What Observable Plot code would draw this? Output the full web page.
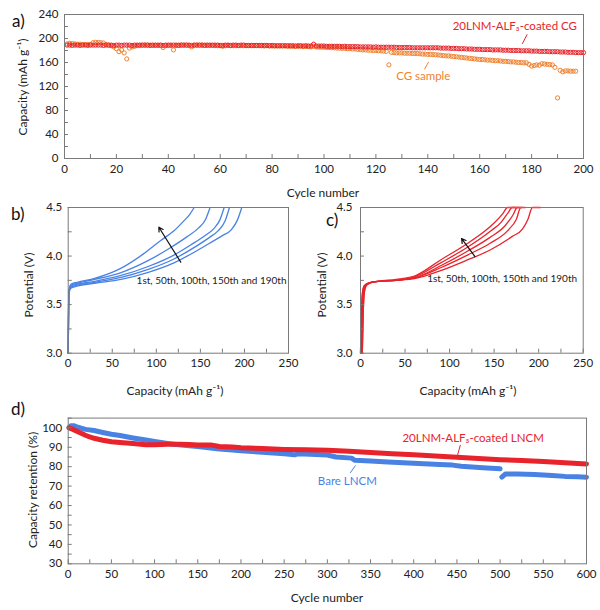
<!DOCTYPE html>
<html><head><meta charset="utf-8">
<script src="https://cdn.jsdelivr.net/npm/d3@7"></script>
<script src="https://cdn.jsdelivr.net/npm/@observablehq/plot@0.6"></script>
<style>
body{margin:0;background:#fff;font-family:Lato,"Open Sans",sans-serif;}
#fig{position:relative;width:600px;height:610px;overflow:hidden;background:#fff;}
.p{position:absolute;}
.t{position:absolute;font-size:12px;color:#222;white-space:nowrap;transform:translate(-50%,-50%);}
.r{transform:translate(-50%,-50%) rotate(-90deg);}
.lab{position:absolute;font-size:17px;color:#111;line-height:1;}
</style></head><body><div id="fig"></div><script>
// ---------- colours ----------
const RED = "#e8232b", ORANGE = "#f0822f", BLUE = "#4a82e4", FRAME = "#7a7a7a";

// ---------- panel a: capacity vs cycle (cycles 1..n) ----------
const coatedCG = [
 189,189,188.5,189,189,188.5,189,189,188.5,189,
 189,189,189,189,188.5,189,189,189,188.5,189,
 189,188.5,189,189,189,188.5,189,189,189,189,
 189,189,188.5,189,189,189,189,188.5,189,189,
 189,189,189,188.5,189,189,189,189,188.5,189,
 189,189,189,188.5,189,189,189,189,189,188.5,
 188.5,189,189,188.5,189,189,188.5,189,189,188.5,
 188.5,188.5,188.5,188.5,188.5,188.5,188.5,188.5,188,188.5,
 188,188,188,188,188,188,188,188,187.5,188,
 188,187.5,188,187.5,187.5,190.5,187.5,187.5,187.5,187.5,
 187,187,187,187,187,187,186.5,187,186.5,186.5,
 186.5,186.5,186.5,186,186,186,186,186,185.5,186,
 185.5,185.5,185.5,185.5,185.5,185.5,185.5,185,185,185,
 185,185,185,184.5,184.5,184.5,184.5,184.5,184.5,184.5,
 184.5,184.5,184.5,184.5,184,184,184,184,183.5,183.5,
 183.5,183,183,183,182.5,182.5,182.5,182,182,182,
 181.5,181.5,181.5,181.5,181,181,181,181,180.5,180.5,
 180.5,180,180,180,180,179.5,179.5,179.5,179.5,179,
 179,179,178.5,178.5,178.5,178.5,178,178,178,178,
 177.5,177.5,177.5,177,177,177,176.5,176.5,176.5,176.5
];
const cgSample = [
 191,192,191.5,191,190.5,190.5,190,190,190,190,
 193,193.5,193.5,193,192.5,190,189,188,186,183,
 178,181,176,166,184,186,187,188,188.5,189,
 189,189,189,188.5,188.5,188.5,188.5,185,188,188.5,
 188.5,181,188.5,189,189,189,189,188.5,186,189,
 189,189,189,189,188.5,188.5,188.5,188,188,188,
 187,188,188.5,188,188,188,188,188,188,188,
 188,188,188,188,188,188,187.5,188,187.5,187.5,
 187.5,187.5,187.5,187.5,187.5,187,187,187,187,187,
 187,186.5,186.5,186.5,186,187,186,185.5,185.5,185.5,
 185,185,184.5,184.5,184,184,183.5,183.5,183,183,
 182.5,182.5,182,181.5,181,181,180.5,180.5,180,180,
 179.5,179.5,179,178.5,156,177,176.5,176,176,176,
 175.5,175.5,175.5,175,175,175,174.5,174,174,173.5,
 173.5,173,173,172.5,172,171.5,171,171,170.5,170,
 169.5,169,168.5,168,167.5,167,166.5,166,165.5,165,
 165,164.5,164,164,163.5,163,163,162.5,162,162,
 161.5,161,161,160.5,160,160,159.5,159.5,157,154,
 155,156,155.5,158,157.5,157,156.5,156,152,101,
 147,144.5,146,146,145.5,145.5,145.5
];
const aXMajor = [0,20,40,60,80,100,120,140,160,180,200];
const aXMinor = [0,10,20,30,40,50,60,70,80,90,100,110,120,130,140,150,160,170,180,190,200];
const aYMajor = [0,40,80,120,160,200,240];
const aYMinor = [0,20,40,60,80,100,120,140,160,180,200,220,240];
const aCoatedNote = {x:197.5, y:220, text:"20LNM-ALF₃-coated CG"};
const aCgNote = {x:127.8, y:136.5, text:"CG sample"};
const aLinks = [
  {x1:178.3, y1:207, x2:176.4, y2:191, color:RED},
  {x1:140.3, y1:161, x2:138.7, y2:148.5, color:ORANGE}
];

// ---------- panel b: bare LNCM charge curves [capacity, V] (1st ... 190th) ----------
const b1st   = [[0,3.0],[0.5,3.5],[1,3.62],[3,3.67],[10,3.69],[30,3.72],[60,3.76],[90,3.83],[120,3.93],[145,4.05],[160,4.13],[175,4.21],[185,4.27],[192,4.37],[197,4.5]];
const b50th  = [[0,3.0],[0.5,3.5],[1,3.63],[3,3.68],[10,3.7],[30,3.73],[60,3.78],[90,3.86],[120,3.97],[145,4.1],[160,4.19],[170,4.26],[178,4.36],[183,4.5]];
const b100th = [[0,3.0],[0.5,3.5],[1,3.63],[3,3.69],[10,3.71],[30,3.74],[60,3.8],[90,3.89],[120,4.01],[140,4.12],[155,4.21],[165,4.28],[172,4.37],[177,4.5]];
const b150th = [[0,3.0],[0.5,3.5],[1,3.64],[3,3.7],[10,3.72],[30,3.76],[60,3.83],[90,3.95],[115,4.08],[135,4.2],[148,4.29],[156,4.38],[161,4.5]];
const b190th = [[0,3.0],[0.5,3.5],[1,3.65],[3,3.71],[10,3.73],[30,3.77],[59,3.87],[85,4.02],[105,4.16],[120,4.26],[131,4.36],[138,4.43],[143,4.5]];

// ---------- panel c: coated LNCM charge curves ----------
const c1st   = [[0,3.0],[1,3.4],[2,3.6],[4,3.69],[8,3.72],[20,3.74],[40,3.75],[62,3.77],[90,3.85],[120,3.96],[145,4.06],[170,4.2],[182,4.28],[188,4.38],[193,4.5],[202,4.5]];
const c50th  = [[0,3.0],[1,3.4],[2,3.6],[4,3.69],[8,3.72],[20,3.74],[40,3.75],[62,3.78],[90,3.88],[120,4.01],[145,4.13],[165,4.26],[175,4.38],[180,4.5],[185,4.5]];
const c100th = [[1,3.0],[2,3.4],[3,3.6],[5,3.69],[9,3.72],[20,3.74],[40,3.75],[62,3.78],[90,3.9],[120,4.05],[145,4.19],[162,4.31],[171,4.42],[176,4.5],[181,4.5]];
const c150th = [[2,3.0],[3,3.4],[4,3.6],[6,3.69],[10,3.72],[20,3.74],[40,3.75],[62,3.79],[90,3.93],[120,4.09],[145,4.25],[158,4.35],[166,4.45],[170,4.5],[178,4.5]];
const c190th = [[2,3.0],[3,3.4],[4,3.6],[6,3.69],[10,3.72],[20,3.74],[40,3.76],[62,3.8],[90,3.96],[120,4.13],[140,4.26],[150,4.34],[160,4.44],[165,4.5],[175,4.5]];

const bcXMajor = [0,50,100,150,200,250];
const bcXMinor = [0,25,50,75,100,125,150,175,200,225,250];
const bcYMajor = [3.0,3.5,4.0,4.5];
const bcYMinor = [3.0,3.25,3.5,3.75,4.0,4.25,4.5];
const cycleNote = "1st, 50th, 100th, 150th and 190th";
const bArrow = {x1:127.7, y1:3.937, x2:102.9, y2:4.297};
const cArrow = {x1:128.5, y1:3.995, x2:113.5, y2:4.18};
const bNotePos = {x:77.6, y:3.748};
const cNotePos = {x:74.8, y:3.77};

// ---------- panel d: capacity retention [cycle, %] ----------
const coatedLNCM = [[1,100],[5,99.3],[10,98.2],[15,97.2],[20,96.2],[25,95.3],[30,94.6],[40,93.6],[50,92.8],[60,92.4],[75,91.9],[90,91.3],[100,91.3],[115,91.5],[130,91.6],[140,91.4],[150,91.2],[165,91.2],[175,90.4],[190,90.1],[200,89.7],[225,89.3],[250,88.9],[275,88.7],[300,88.5],[325,87.9],[350,87.3],[375,86.7],[400,86.1],[425,85.5],[450,84.8],[475,84.2],[500,83.6],[525,83.2],[550,82.6],[575,82],[600,81.4]];
const bareLNCM = [[1,100.2],[3,101],[7,101],[10,100.5],[15,99.8],[20,99.2],[30,98.6],[40,97.6],[50,96.7],[60,96],[75,94.8],[90,93.7],[100,93],[115,92],[125,91.4],[140,90.8],[150,90.4],[160,89.9],[175,89.1],[190,88.6],[200,88.2],[225,87.4],[250,86.6],[262,86.1],[266,86.6],[280,86.4],[300,86],[310,85],[328,84.4],[332,83.3],[350,82.9],[370,82.4],[400,81.7],[430,81.1],[445,80.8],[455,80.2],[480,79.5],[500,78.9],[501,NaN],[502,74.6],[506,76.2],[520,76.2],[540,76],[560,75.5],[575,75],[590,74.8],[600,74.6]];
const dXMajor = [0,50,100,150,200,250,300,350,400,450,500,550,600];
const dXMinor = [0,25,50,75,100,125,150,175,200,225,250,275,300,325,350,375,400,425,450,475,500,525,550,575,600];
const dYMajor = [30,40,50,60,70,80,90,100];
const dYMinor = [30,35,40,45,50,55,60,65,70,75,80,85,90,95,100,105];
const dCoatedNote = {x:550.6, y:94.85, text:"20LNM-ALF₃-coated LNCM"};
const dBareNote = {x:289, y:72.5, text:"Bare LNCM"};
const dLinks = [
  {x1:454, y1:91.2, x2:450.5, y2:85.6, color:RED},
  {x1:332.6, y1:80.6, x2:326.5, y2:76.8, color:BLUE}
];

// ---------- helpers ----------
const fig = document.getElementById("fig");
function panel(o) {
  const svg = Plot.plot({
    width: o.width, height: o.height,
    marginLeft: o.m[3], marginRight: o.m[1], marginTop: o.m[0], marginBottom: o.m[2],
    x: {domain: o.xDomain}, y: {domain: o.yDomain},
    style: {fontFamily: "Lato, 'Open Sans', sans-serif", fontSize: "11.5px", color: "#222", background: "transparent", overflow: "visible"},
    marks: [
      ...o.marks,
      Plot.frame({stroke: FRAME}),
      Plot.axisX({ticks: o.xMinor, tickSize: -4, tickFormat: () => "", stroke: FRAME, label: null}),
      Plot.axisY({ticks: o.yMinor, tickSize: -4, tickFormat: () => "", stroke: FRAME, label: null}),
      Plot.axisX({ticks: o.xMajor, tickSize: 0, tickPadding: o.xPad ?? 6, tickFormat: o.xFmt, label: null}),
      Plot.axisY({ticks: o.yMajor, tickSize: 0, tickPadding: o.yPad ?? 6, tickFormat: o.yFmt, label: null})
    ]
  });
  svg.classList.add("p");
  svg.style.left = o.left + "px";
  svg.style.top = o.top + "px";
  fig.appendChild(svg);
}
function html(cls, text, x, y, size) {
  const d = document.createElement("div");
  d.className = cls;
  d.textContent = text;
  d.style.left = x + "px"; d.style.top = y + "px";
  if (size) d.style.fontSize = size + "px";
  fig.appendChild(d);
}
const rowsXY = (vals) => vals.map((v, i) => ({x: i + 1, y: v}));
const curveRows = (curves) => curves.flatMap((c, k) => c.map(([x, y]) => ({x, y, k})));
const note = (d, color, anchor) => Plot.text([d], {x: "x", y: "y", text: "text", fill: color, textAnchor: anchor, fontSize: 11.5});

// ---------- panel a ----------
panel({
  left: 0, top: 0, width: 600, height: 200, m: [14, 17, 42, 64],
  xDomain: [0, 200], yDomain: [0, 240],
  xMajor: aXMajor, xMinor: aXMinor, yMajor: aYMajor, yMinor: aYMinor,
  xFmt: d3.format("d"), yFmt: d3.format("d"),
  marks: [
    Plot.dot(rowsXY(cgSample), {x: "x", y: "y", r: 2.1, stroke: ORANGE, strokeWidth: 1}),
    Plot.dot(rowsXY(coatedCG), {x: "x", y: "y", r: 2.1, stroke: RED, strokeWidth: 1}),
    Plot.link(aLinks, {x1: "x1", y1: "y1", x2: "x2", y2: "y2", stroke: "color", strokeWidth: 1}),
    note(aCoatedNote, RED, "end"),
    note(aCgNote, ORANGE, "start")
  ]
});

// ---------- panel b ----------
panel({
  left: 0, top: 195, width: 300, height: 210, m: [12, 12, 52.3, 67.7],
  xDomain: [0, 250], yDomain: [3, 4.5],
  xMajor: bcXMajor, xMinor: bcXMinor, yMajor: bcYMajor, yMinor: bcYMinor,
  xFmt: d3.format("d"), yFmt: d3.format(".1f"),
  marks: [
    Plot.line(curveRows([b1st, b50th, b100th, b150th, b190th]), {x: "x", y: "y", z: "k", stroke: BLUE, strokeWidth: 1.3, curve: "monotone-x"}),
    Plot.arrow([bArrow], {x1: "x1", y1: "y1", x2: "x2", y2: "y2", stroke: "#111", strokeWidth: 1.2, headLength: 6}),
    Plot.text([bNotePos], {x: "x", y: "y", text: () => cycleNote, textAnchor: "start", fontSize: 10, fill: "#222"})
  ]
});

// ---------- panel c ----------
panel({
  left: 300, top: 195, width: 300, height: 210, m: [12, 17.3, 52.3, 60],
  xDomain: [0, 250], yDomain: [3, 4.5],
  xMajor: bcXMajor, xMinor: bcXMinor, yMajor: bcYMajor, yMinor: bcYMinor,
  xFmt: d3.format("d"), yFmt: d3.format(".1f"), yPad: 8,
  marks: [
    Plot.line(curveRows([c1st, c50th, c100th, c150th, c190th]), {x: "x", y: "y", z: "k", stroke: RED, strokeWidth: 1.3, curve: "monotone-x"}),
    Plot.arrow([cArrow], {x1: "x1", y1: "y1", x2: "x2", y2: "y2", stroke: "#111", strokeWidth: 1.2, headLength: 6}),
    Plot.text([cNotePos], {x: "x", y: "y", text: () => cycleNote, textAnchor: "start", fontSize: 10, fill: "#222"})
  ]
});

// ---------- panel d ----------
panel({
  left: 0, top: 405, width: 600, height: 205, m: [12.6, 14, 46.7, 67.7],
  xDomain: [0, 600], yDomain: [30, 105],
  xMajor: dXMajor, xMinor: dXMinor, yMajor: dYMajor, yMinor: dYMinor,
  xFmt: d3.format("d"), yFmt: d3.format("d"), xPad: 6.5,
  marks: [
    Plot.line(bareLNCM, {x: d => d[0], y: d => d[1], stroke: BLUE, strokeWidth: 5, strokeLinecap: "round"}),
    Plot.line(coatedLNCM, {x: d => d[0], y: d => d[1], stroke: RED, strokeWidth: 5, strokeLinecap: "round"}),
    Plot.link(dLinks, {x1: "x1", y1: "y1", x2: "x2", y2: "y2", stroke: "color", strokeWidth: 1}),
    note(dCoatedNote, RED, "end"),
    note(dBareNote, BLUE, "start")
  ]
});

// ---------- titles and panel letters ----------
html("t r", "Capacity (mAh g⁻¹)", 22, 87);
html("t", "Cycle number", 323, 192);
html("t r", "Potential (V)", 28, 285);
html("t", "Capacity (mAh g⁻¹)", 175, 390);
html("t r", "Potential (V)", 321, 285);
html("t", "Capacity (mAh g⁻¹)", 468, 390);
html("t r", "Capacity retention (%)", 32, 490);
html("t", "Cycle number", 327, 597);
html("lab", "a)", 12, 12);
html("lab", "b)", 11, 205);
html("lab", "c)", 326, 211);
html("lab", "d)", 11, 400);
</script></body></html>
